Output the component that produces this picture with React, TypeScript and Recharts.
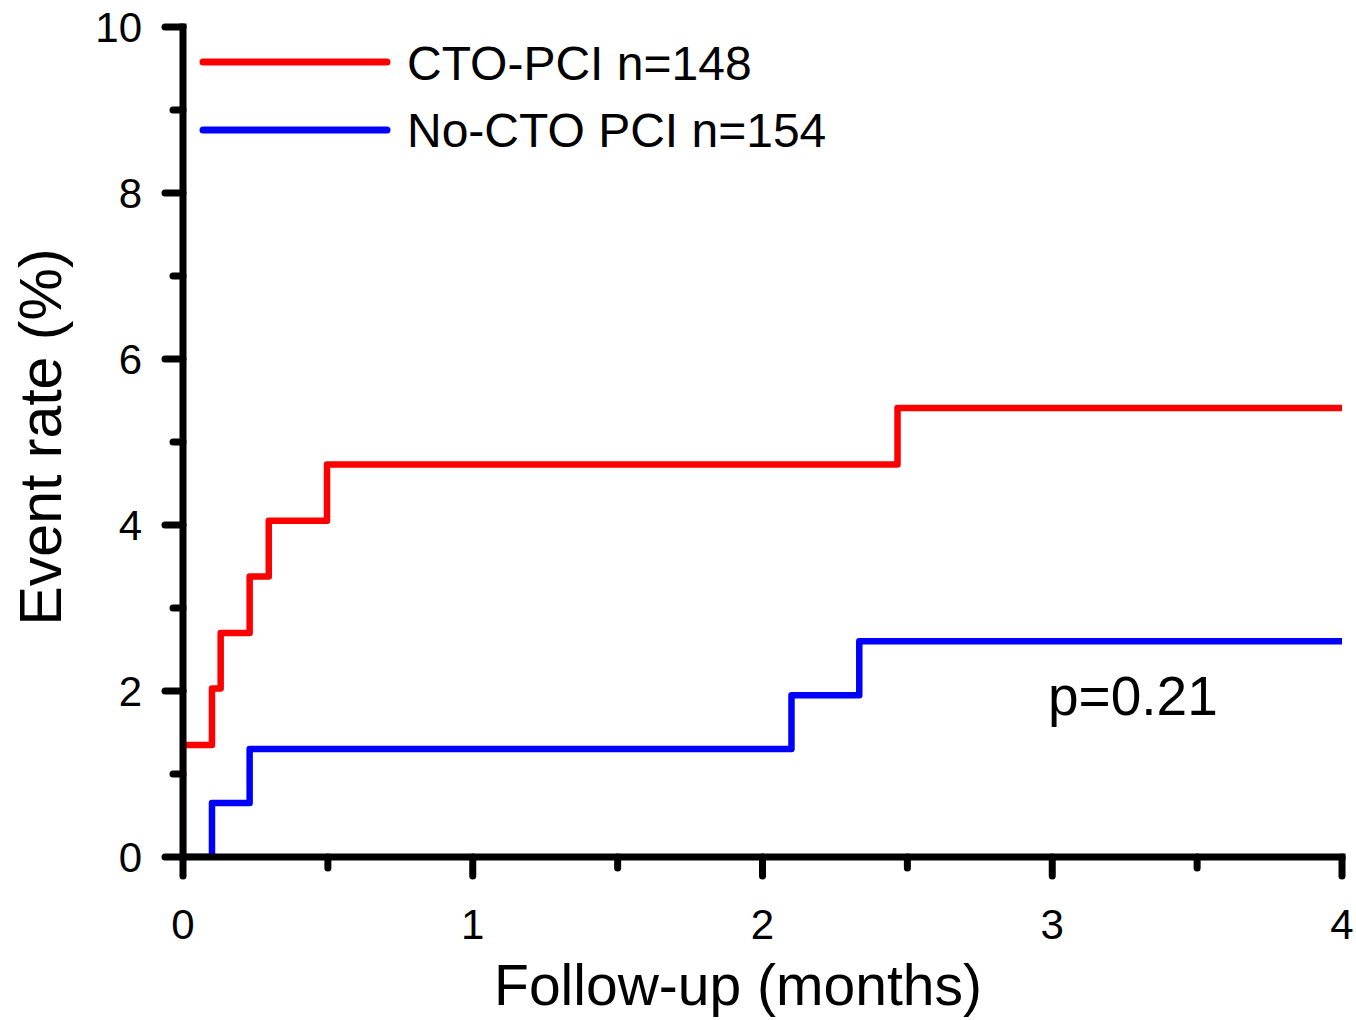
import React from 'react';
import { LineChart, Line, XAxis, YAxis, Legend } from 'recharts';

// Kaplan-Meier style cumulative event rate (%)
const ctoTime = [0, 0, 0.1, 0.13, 0.23, 0.296, 0.497, 2.466, 4.0];
const ctoRate = [0, 1.35, 2.03, 2.7, 3.38, 4.05, 4.73, 5.41, 5.41];
const noCtoTime = [0, 0.1, 0.23, 2.1, 2.334, 4.0];
const noCtoRate = [0, 0.65, 1.3, 1.95, 2.6, 2.6];

const xTicks = [0, 0.5, 1, 1.5, 2, 2.5, 3, 3.5, 4];
const yTicks = [0, 1, 2, 3, 4, 5, 6, 7, 8, 9, 10];
const seriesNames = ['CTO-PCI n=148', 'No-CTO PCI n=154'];
const seriesColors = ['#ff0000', '#0000ff'];
const pValueText = 'p=0.21';

const ctoData = ctoTime.map((t, i) => ({ time: t, rate: ctoRate[i] }));
const noCtoData = noCtoTime.map((t, i) => ({ time: t, rate: noCtoRate[i] }));

const FONT = '"Liberation Sans", Arial, sans-serif';

if (typeof document !== 'undefined' && document.body) {
  document.body.style.margin = '0';
}

const XTick = (props: any) => {
  const { x, y, payload } = props;
  const v = payload.value;
  const major = Number.isInteger(v);
  return (
    <g>
      <line x1={x} y1={y} x2={x} y2={y + (major ? 19 : 11)} stroke="#000" strokeWidth={7} strokeLinecap="round" />
      {major && (
        <text x={x} y={y + 82} textAnchor="middle" fontSize={42} fontFamily={FONT} fill="#000">
          {v}
        </text>
      )}
    </g>
  );
};

const YTick = (props: any) => {
  const { x, y, payload } = props;
  const v = payload.value;
  const major = v % 2 === 0;
  return (
    <g>
      <line x1={x} y1={y} x2={x - (major ? 18 : 10)} y2={y} stroke="#000" strokeWidth={7} strokeLinecap="round" />
      {major && (
        <text x={x - 41} y={y + 15} textAnchor="end" fontSize={42} fontFamily={FONT} fill="#000">
          {v}
        </text>
      )}
    </g>
  );
};

const LegendContent = () => (
  <svg width={900} height={170} style={{ display: 'block' }}>
    {seriesNames.map((name, i) => (
      <g key={name}>
        <line x1={195} y1={54 + i * 68} x2={379} y2={54 + i * 68} stroke={seriesColors[i]} strokeWidth={7} strokeLinecap="round" />
        <text x={399} y={72 + i * 67} fontSize={48} fontFamily={FONT} fill="#000">
          {name}
        </text>
      </g>
    ))}
  </svg>
);

export default function App() {
  const W = 1348;
  const H = 1012;
  return (
    <div style={{ position: 'relative', width: 1356, height: 1020, background: '#fff' }}>
      <div style={{ position: 'absolute', left: 8, top: 8, width: W, height: H }}>
        <LineChart width={W} height={H} margin={{ top: 19, right: 14, left: 0, bottom: 63 }}>
          <XAxis
            dataKey="time"
            type="number"
            domain={[0, 4]}
            ticks={xTicks}
            interval={0}
            tick={<XTick />}
            tickLine={false}
            tickSize={0}
            tickMargin={0}
            height={100}
            axisLine={{ stroke: '#000', strokeWidth: 7, strokeLinecap: 'square' }}
            allowDataOverflow
          />
          <YAxis
            type="number"
            domain={[0, 10]}
            ticks={yTicks}
            interval={0}
            tick={<YTick />}
            tickLine={false}
            tickSize={0}
            tickMargin={0}
            width={175}
            axisLine={{ stroke: '#000', strokeWidth: 7, strokeLinecap: 'square' }}
            allowDataOverflow
          />
          <Legend
            layout="horizontal"
            verticalAlign="middle"
            align="center"
            content={<LegendContent />}
            wrapperStyle={{ top: 0, left: 0, width: 900, height: 170 }}
          />
          <Line
            data={ctoData}
            dataKey="rate"
            name={seriesNames[0]}
            type="stepAfter"
            stroke={seriesColors[0]}
            strokeWidth={6.5}
            strokeLinejoin="round"
            strokeLinecap="round"
            dot={false}
            activeDot={false}
            isAnimationActive={false}
          />
          <Line
            data={noCtoData}
            dataKey="rate"
            name={seriesNames[1]}
            type="stepAfter"
            stroke={seriesColors[1]}
            strokeWidth={6.5}
            strokeLinejoin="round"
            strokeLinecap="round"
            dot={false}
            activeDot={false}
            isAnimationActive={false}
          />
        </LineChart>
        <svg width={W} height={H} style={{ position: 'absolute', left: 0, top: 0, pointerEvents: 'none' }}>
          <text
            transform="translate(53,429) rotate(-90)"
            textAnchor="middle"
            fontSize={59}
            fontFamily={FONT}
            fill="#000"
          >
            Event rate (%)
          </text>
          <text x={730} y={997} textAnchor="middle" fontSize={57} fontFamily={FONT} fill="#000">
            Follow-up (months)
          </text>
          <text x={1040} y={707} fontSize={55} fontFamily={FONT} fill="#000">
            {pValueText}
          </text>
        </svg>
      </div>
    </div>
  );
}
